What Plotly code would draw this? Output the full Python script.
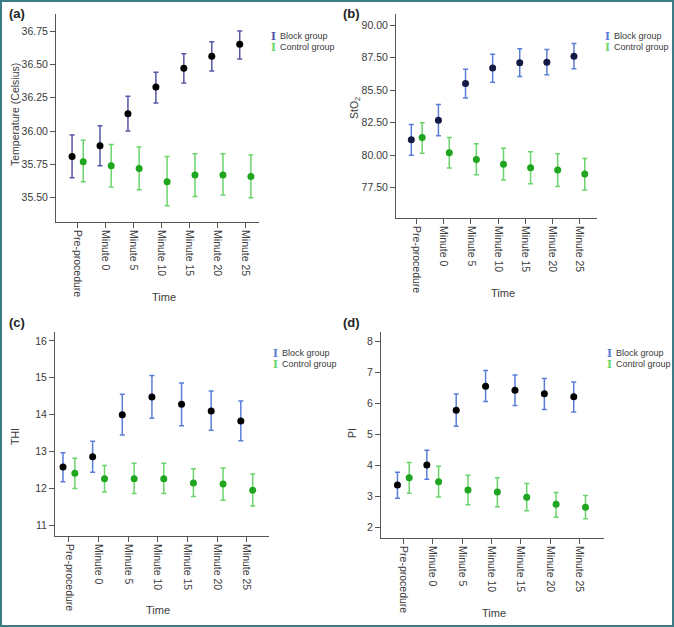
import plotly.graph_objects as go

W, H = 674, 627

categories = ["Pre-procedure", "Minute 0", "Minute 5", "Minute 10", "Minute 15", "Minute 20", "Minute 25"]

# Panel (a) Temperature
temp_block_mean = [35.81, 35.89, 36.13, 36.33, 36.47, 36.56, 36.65]
temp_block_low = [35.65, 35.74, 36.00, 36.21, 36.36, 36.45, 36.54]
temp_block_high = [35.97, 36.04, 36.26, 36.44, 36.58, 36.67, 36.75]
temp_ctrl_mean = [35.77, 35.74, 35.72, 35.62, 35.67, 35.67, 35.66]
temp_ctrl_low = [35.62, 35.58, 35.56, 35.44, 35.51, 35.52, 35.50]
temp_ctrl_high = [35.93, 35.90, 35.88, 35.81, 35.83, 35.83, 35.82]

# Panel (b) StO2
sto2_block_mean = [81.18, 82.69, 85.51, 86.69, 87.10, 87.15, 87.60]
sto2_block_low = [80.00, 81.50, 84.40, 85.60, 86.05, 86.18, 86.64]
sto2_block_high = [82.36, 83.90, 86.60, 87.75, 88.18, 88.13, 88.59]
sto2_ctrl_mean = [81.36, 80.18, 79.67, 79.31, 79.03, 78.85, 78.56]
sto2_ctrl_low = [80.15, 79.02, 78.50, 78.10, 77.80, 77.60, 77.33]
sto2_ctrl_high = [82.49, 81.36, 80.87, 80.54, 80.26, 80.10, 79.74]
sto2_ticks = [77.5, 80.0, 82.5, 85.0, 87.5, 90.0]
sto2_ticktext = ["77.50", "80.00", "82.50", "85.50", "87.50", "90.00"]

# Panel (c) THI
thi_block_mean = [12.58, 12.86, 14.00, 14.48, 14.28, 14.10, 13.83]
thi_block_low = [12.18, 12.44, 13.45, 13.90, 13.70, 13.58, 13.29]
thi_block_high = [12.97, 13.28, 14.55, 15.06, 14.86, 14.64, 14.37]
thi_ctrl_mean = [12.41, 12.26, 12.26, 12.26, 12.15, 12.12, 11.95]
thi_ctrl_low = [12.00, 11.90, 11.86, 11.86, 11.78, 11.68, 11.52]
thi_ctrl_high = [12.82, 12.62, 12.68, 12.68, 12.53, 12.55, 12.39]

# Panel (d) PI
pi_block_mean = [3.37, 4.01, 5.78, 6.55, 6.42, 6.31, 6.21]
pi_block_low = [2.94, 3.55, 5.26, 6.06, 5.93, 5.80, 5.72]
pi_block_high = [3.78, 4.49, 6.30, 7.06, 6.91, 6.80, 6.69]
pi_ctrl_mean = [3.60, 3.47, 3.21, 3.14, 2.97, 2.75, 2.65]
pi_ctrl_low = [3.10, 2.98, 2.73, 2.67, 2.54, 2.33, 2.28]
pi_ctrl_high = [4.09, 3.97, 3.68, 3.60, 3.42, 3.13, 3.03]

FONT = "Liberation Sans, Arial, sans-serif"
TXT = "#3a3a3a"
AX = "#555555"
CTRL_BAR = "#6cd46c"
CTRL_MK = "#1fa51f"
OFF = 0.2

panels = [
    dict(label="(a)", ytitle="Temperature (Celsius)",
         bm=temp_block_mean, bl=temp_block_low, bh=temp_block_high,
         cm=temp_ctrl_mean, cl=temp_ctrl_low, ch=temp_ctrl_high,
         px=(56, 259), py=(14, 222), xr=[-0.775, 6.49], yr=[35.318, 36.8775],
         ytv=[35.5, 35.75, 36.0, 36.25, 36.5, 36.75],
         ytt=["35.50", "35.75", "36.00", "36.25", "36.50", "36.75"],
         bbar="#5656a6", bmk="#000000",
         lab=(7, 13), yt=(15, 115), tt=(164, 297), leg=(273, 36)),
    dict(label="(b)", ytitle="StO<sub>2</sub>",
         bm=sto2_block_mean, bl=sto2_block_low, bh=sto2_block_high,
         cm=sto2_ctrl_mean, cl=sto2_ctrl_low, ch=sto2_ctrl_high,
         px=(396, 597), py=(14, 218), xr=[-0.765, 6.65], yr=[75.17, 90.85],
         ytv=sto2_ticks, ytt=sto2_ticktext,
         bbar="#5a7ed8", bmk="#141a44",
         lab=(341, 13), yt=(355, 108), tt=(503, 293), leg=(607, 36)),
    dict(label="(c)", ytitle="THI",
         bm=thi_block_mean, bl=thi_block_low, bh=thi_block_high,
         cm=thi_ctrl_mean, cl=thi_ctrl_low, ch=thi_ctrl_high,
         px=(55, 269), py=(332, 536), xr=[-0.47, 6.75], yr=[10.71, 16.24],
         ytv=[11, 12, 13, 14, 15, 16], ytt=["11", "12", "13", "14", "15", "16"],
         bbar="#5a7ed8", bmk="#000000",
         lab=(7, 322), yt=(15, 437), tt=(158, 610), leg=(275, 353)),
    dict(label="(d)", ytitle="PI",
         bm=pi_block_mean, bl=pi_block_low, bh=pi_block_high,
         cm=pi_ctrl_mean, cl=pi_ctrl_low, ch=pi_ctrl_high,
         px=(381, 604), py=(332, 538), xr=[-0.76, 6.83], yr=[1.66, 8.3],
         ytv=[2, 3, 4, 5, 6, 7, 8], ytt=["2", "3", "4", "5", "6", "7", "8"],
         bbar="#5a7ed8", bmk="#000000",
         lab=(341, 322), yt=(352, 433), tt=(494, 613), leg=(609, 353)),
]

fig = go.Figure()
annotations = []
layout = {}

def fx(p):
    return p / W

def fy(p):
    return 1 - p / H

for i, p in enumerate(panels):
    n = "" if i == 0 else str(i + 1)
    xa, ya = "x" + n, "y" + n
    idx = list(range(len(categories)))
    xb = [k - OFF for k in idx]
    xc = [k + OFF for k in idx]
    fig.add_trace(go.Scatter(
        x=xb, y=p["bm"], xaxis=xa, yaxis=ya, mode="markers", showlegend=False,
        marker=dict(color=p["bmk"], size=7),
        error_y=dict(type="data", symmetric=False,
                     array=[h - m for h, m in zip(p["bh"], p["bm"])],
                     arrayminus=[m - l for m, l in zip(p["bm"], p["bl"])],
                     color=p["bbar"], thickness=1.5, width=2.5)))
    fig.add_trace(go.Scatter(
        x=xc, y=p["cm"], xaxis=xa, yaxis=ya, mode="markers", showlegend=False,
        marker=dict(color=CTRL_MK, size=7),
        error_y=dict(type="data", symmetric=False,
                     array=[h - m for h, m in zip(p["ch"], p["cm"])],
                     arrayminus=[m - l for m, l in zip(p["cm"], p["cl"])],
                     color=CTRL_BAR, thickness=1.5, width=2.5)))

    layout["xaxis" + n] = dict(
        domain=[fx(p["px"][0]), fx(p["px"][1])], anchor=ya, range=p["xr"],
        tickmode="array", tickvals=idx, ticktext=categories, tickangle=90,
        showline=True, linecolor=AX, linewidth=1, ticks="outside", ticklen=5,
        tickcolor=AX, showgrid=False, zeroline=False,
        tickfont=dict(family=FONT, size=10.5, color=TXT))
    layout["yaxis" + n] = dict(
        domain=[fy(p["py"][1]), fy(p["py"][0])], anchor=xa, range=p["yr"],
        tickmode="array", tickvals=p["ytv"], ticktext=p["ytt"],
        showline=True, linecolor=AX, linewidth=1, ticks="outside", ticklen=5,
        tickcolor=AX, showgrid=False, zeroline=False,
        tickfont=dict(family=FONT, size=10.5, color=TXT))

    annotations.append(dict(text="<b>" + p["label"] + "</b>", xref="paper", yref="paper",
                            x=fx(p["lab"][0]), y=fy(p["lab"][1]), xanchor="left", yanchor="middle",
                            showarrow=False, font=dict(family=FONT, size=13, color="#222")))
    annotations.append(dict(text=p["ytitle"], xref="paper", yref="paper",
                            x=fx(p["yt"][0]), y=fy(p["yt"][1]), xanchor="center", yanchor="middle",
                            textangle=-90, showarrow=False, font=dict(family=FONT, size=10.5, color=TXT)))
    annotations.append(dict(text="Time", xref="paper", yref="paper",
                            x=fx(p["tt"][0]), y=fy(p["tt"][1]), xanchor="center", yanchor="middle",
                            showarrow=False, font=dict(family=FONT, size=11, color=TXT)))
    lx, ly = p["leg"]
    for j, (name, col) in enumerate([("Block group", p["bbar"]), ("Control group", CTRL_BAR)]):
        yy = ly + j * 11
        annotations.append(dict(text="<b>I</b>", xref="paper", yref="paper",
                                x=fx(lx), y=fy(yy), xanchor="center", yanchor="middle",
                                showarrow=False, font=dict(family="DejaVu Serif", size=10.5, color=col)))
        annotations.append(dict(text=name, xref="paper", yref="paper",
                                x=fx(lx + 5), y=fy(yy), xanchor="left", yanchor="middle",
                                showarrow=False, font=dict(family=FONT, size=9, color=TXT)))

fig.update_layout(
    width=W, height=H, margin=dict(l=0, r=0, t=0, b=0),
    paper_bgcolor="white", plot_bgcolor="white",
    showlegend=False, annotations=annotations,
    shapes=[dict(type="rect", xref="paper", yref="paper", x0=0, y0=0, x1=1, y1=1,
                 line=dict(color="#3d7c87", width=4), fillcolor="rgba(0,0,0,0)")],
    **layout)

fig.write_html("out.html", config={"displayModeBar": False},
               post_script="document.body.style.margin='0';document.body.style.overflow='hidden';")
